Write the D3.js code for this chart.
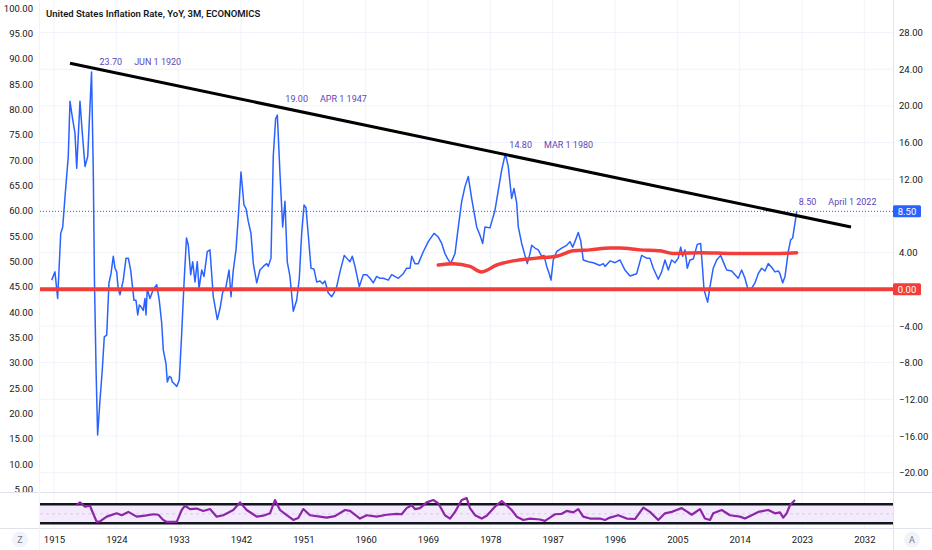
<!DOCTYPE html>
<html lang="en">
<head>
<meta charset="UTF-8">
<title>United States Inflation Rate</title>
<script src="https://d3js.org/d3.v7.min.js"></script>
<style>
  html, body { margin: 0; padding: 0; background: #fff; }
  svg { display: block; font-family: Roboto, "Open Sans", sans-serif; }
</style>
</head>
<body>
<svg id="chart"></svg>
<script>
// quarterly YoY inflation (decimal year, percent)
const years = [1914.67, 1915.14, 1915.53, 1915.97, 1916.26, 1916.59, 1917.06, 1917.31, 1917.64, 1918.03,
  1918.28, 1918.75, 1919.09, 1919.48, 1919.87, 1920.42, 1920.67, 1920.84, 1921.08, 1921.3,
  1921.64, 1921.97, 1922.26, 1922.61, 1922.94, 1923.23, 1923.56, 1923.81, 1924.05, 1924.28,
  1924.53, 1925.0, 1925.4, 1925.73, 1926.07, 1926.55, 1926.84, 1927.09, 1927.32, 1927.56,
  1927.89, 1928.14, 1928.28, 1928.47, 1928.86, 1929.34, 1929.83, 1930.2, 1930.55, 1930.78,
  1931.17, 1931.36, 1931.65, 1931.89, 1932.08, 1932.37, 1932.72, 1933.09, 1933.44, 1933.77,
  1934.13, 1934.39, 1934.74, 1935.03, 1935.36, 1935.69, 1935.94, 1936.33, 1936.66, 1937.13,
  1937.52, 1938.0, 1938.58, 1938.97, 1939.36, 1939.79, 1940.27, 1940.56, 1940.89, 1941.28,
  1941.61, 1942.0, 1942.43, 1942.72, 1943.05, 1943.44, 1943.78, 1944.27, 1944.74, 1945.22,
  1945.71, 1945.94, 1946.33, 1946.66, 1947.0, 1947.25, 1947.63, 1948.02, 1948.35, 1948.68,
  1949.07, 1949.55, 1950.04, 1950.42, 1950.76, 1951.1, 1951.38, 1951.72, 1952.11, 1952.54,
  1952.93, 1953.41, 1953.8, 1954.13, 1954.6, 1955.1, 1955.43, 1955.82, 1956.29, 1956.91,
  1957.26, 1957.74, 1958.07, 1958.46, 1959.08, 1959.66, 1960.15, 1960.63, 1961.1, 1961.59,
  1962.07, 1962.55, 1963.27, 1963.76, 1964.71, 1965.43, 1965.92, 1966.4, 1966.65, 1967.12,
  1967.6, 1968.32, 1969.04, 1969.87, 1970.49, 1970.98, 1971.45, 1971.79, 1972.28, 1972.9,
  1973.38, 1973.87, 1974.34, 1974.82, 1975.31, 1976.03, 1976.51, 1976.9, 1977.23, 1977.95,
  1978.67, 1979.15, 1979.64, 1980.17, 1980.59, 1981.08, 1981.42, 1981.81, 1982.04, 1982.53,
  1983.0, 1983.34, 1983.73, 1983.97, 1984.45, 1984.92, 1985.42, 1985.75, 1986.14, 1986.51,
  1986.76, 1987.09, 1987.58, 1988.3, 1989.03, 1989.5, 1989.89, 1990.22, 1990.7, 1991.05,
  1991.42, 1992.15, 1992.87, 1993.83, 1994.31, 1994.56, 1995.28, 1996.0, 1996.72, 1997.44,
  1998.17, 1999.13, 1999.85, 2000.58, 2001.05, 2001.53, 2002.25, 2002.74, 2003.22, 2003.7,
  2004.18, 2004.66, 2005.14, 2005.49, 2005.78, 2006.11, 2006.44, 2006.83, 2007.31, 2007.88,
  2008.37, 2008.66, 2008.85, 2009.14, 2009.38, 2009.72, 2010.19, 2010.68, 2011.26, 2011.74,
  2012.13, 2012.85, 2013.33, 2013.8, 2014.29, 2014.77, 2015.16, 2015.73, 2016.21, 2016.69,
  2017.18, 2017.66, 2018.13, 2018.62, 2019.1, 2019.58, 2019.82, 2020.21, 2020.55, 2021.02,
  2021.37, 2021.66, 2022.25];
const rates = [1.0, 1.9, -1.0, 6.1, 6.8, 10.1, 14.5, 20.5, 18.8, 17.0,
  13.2, 20.5, 17.0, 13.4, 14.5, 23.7, 13.0, 1.0, -9.0, -15.9,
  -12.1, -8.8, -5.2, -5.0, 0.7, 1.7, 3.6, 2.3, 1.9, 0.0,
  -0.6, 1.0, 3.4, 3.4, 2.1, -1.2, -1.2, -2.8, -1.7, -1.9,
  -2.3, -1.0, -2.8, 0.0, -1.0, 0.0, 0.5, -1.2, -3.7, -6.6,
  -8.1, -10.1, -9.5, -9.6, -10.1, -10.3, -10.6, -9.9, -4.8, 0.6,
  5.6, 4.8, 1.6, 3.0, 0.8, 3.0, 0.1, 2.1, 1.4, 4.1,
  4.3, -0.8, -3.3, -2.1, -0.3, 0.1, 2.1, -0.8, 2.1, 4.3,
  7.9, 12.8, 9.2, 8.8, 7.4, 6.1, 2.8, 0.7, 2.1, 2.5,
  2.8, 2.5, 3.4, 14.5, 18.6, 19.0, 12.6, 6.8, 9.6, 3.0,
  1.4, -2.4, -1.2, 1.2, 6.1, 9.2, 8.9, 5.9, 2.3, 2.2,
  0.8, 0.9, 0.6, 0.9, -0.4, -0.8, -0.4, 0.3, 1.9, 3.7,
  3.4, 3.0, 3.6, 2.5, 0.3, 1.6, 1.6, 1.2, 0.7, 1.4,
  1.2, 1.2, 1.0, 1.6, 1.2, 1.7, 2.3, 2.3, 3.6, 2.8,
  2.8, 4.1, 5.2, 6.1, 5.7, 5.0, 3.9, 3.4, 2.8, 3.9,
  6.8, 9.6, 11.2, 12.3, 9.9, 6.8, 5.9, 5.0, 6.8, 6.7,
  8.6, 10.8, 13.0, 14.8, 13.4, 9.9, 11.0, 9.4, 6.8, 5.0,
  3.7, 2.8, 3.9, 4.8, 4.5, 4.3, 3.6, 3.7, 2.5, 1.7,
  1.0, 3.2, 4.1, 4.5, 4.8, 5.2, 4.6, 5.2, 6.2, 5.3,
  3.2, 3.0, 2.9, 2.6, 2.8, 2.5, 3.1, 2.9, 3.2, 2.1,
  1.45, 1.7, 3.7, 3.4, 3.4, 2.3, 1.1, 1.9, 3.2, 2.1,
  3.2, 2.9, 3.4, 4.6, 3.6, 4.3, 2.3, 3.2, 3.3, 4.9,
  5.0, 2.1, 0.0, -0.8, -1.4, 0.3, 2.3, 3.2, 3.7, 2.8,
  2.1, 2.0, 1.6, 1.2, 2.1, 1.2, 0.1, 0.1, 0.7, 1.7,
  2.3, 2.0, 2.8, 2.4, 1.9, 2.0, 1.7, 0.7, 1.4, 4.1,
  5.4, 5.6, 8.5];

// long moving average (red)
const maYears = [1970.49, 1972.65, 1975.06, 1976.75, 1978.92, 1981.32, 1984.69, 1987.58, 1989.98, 1992.39,
  1995.28, 1996.72, 1999.61, 2002.5, 2004.42, 2008.27, 2013.08, 2017.9, 2022.23];
const maValues = [2.65, 2.8, 2.5, 1.9, 2.65, 3.1, 3.4, 3.6, 4.2, 4.3,
  4.5, 4.5, 4.3, 4.2, 3.9, 4.0, 3.9, 3.9, 4.0];

// RSI pane
const rsiYears = [1918.28, 1918.75, 1919.48, 1920.2, 1920.44, 1921.17, 1921.64, 1922.61, 1924.05, 1924.77,
  1925.73, 1926.94, 1928.14, 1929.34, 1930.06, 1930.78, 1931.27, 1932.72, 1933.44, 1933.91,
  1934.64, 1935.6, 1936.56, 1937.52, 1938.49, 1939.44, 1940.89, 1941.86, 1942.82, 1944.27,
  1945.22, 1946.19, 1946.91, 1947.63, 1948.6, 1949.55, 1950.27, 1951.0, 1951.96, 1953.41,
  1954.37, 1955.57, 1957.02, 1957.74, 1959.18, 1960.15, 1961.59, 1963.04, 1964.48, 1965.2,
  1965.92, 1966.65, 1967.12, 1967.85, 1968.81, 1969.77, 1970.49, 1971.45, 1972.18, 1972.9,
  1973.87, 1974.59, 1975.06, 1975.79, 1976.75, 1977.48, 1978.67, 1979.64, 1980.36, 1981.08,
  1981.81, 1982.76, 1983.73, 1985.17, 1985.89, 1986.61, 1987.34, 1988.3, 1989.03, 1989.98,
  1990.7, 1991.42, 1992.39, 1993.83, 1994.56, 1995.28, 1996.48, 1997.69, 1998.89, 2000.09,
  2001.05, 2002.25, 2003.22, 2004.19, 2004.91, 2005.63, 2006.35, 2007.08, 2008.27, 2008.99,
  2009.72, 2010.19, 2011.41, 2012.6, 2014.05, 2014.77, 2015.74, 2016.69, 2018.13, 2019.1,
  2019.82, 2020.3, 2020.79, 2021.27, 2021.99];
const rsiValues = [68.5, 74, 65, 67, 58, 33, 34, 44, 51, 47,
  54, 44, 46, 49, 48, 37, 33, 33, 58, 67,
  60, 61, 56, 60, 44, 47, 58, 74, 58, 44,
  46, 51, 79, 58, 47, 37, 41, 60, 47, 44,
  42, 45, 58, 56, 40, 47, 44, 48, 50, 49,
  62, 68, 60, 62, 74, 79, 72, 47, 40, 54,
  79, 83, 62, 47, 40, 46, 65, 77, 68, 58,
  44, 37, 40, 38, 35, 42, 49, 50, 56, 53,
  60, 44, 40, 40, 37, 42, 47, 40, 39, 63,
  54, 37, 51, 54, 58, 62, 55, 48, 60, 40,
  37, 51, 58, 47, 44, 40, 47, 54, 58, 51,
  53, 42, 51, 68, 79];
const rsiBands = [70, 30];

// trend line through the peaks
const trendYears = [1917.31, 2030.08];
const trendValues = [24.65, 6.79];

// labelled peaks
const peakYears = [1920.42, 1947.25, 1980.17, 2022.25];
const peakValues = [23.70, 19.00, 14.80, 8.50];
const peakDates = ["JUN 1 1920", "APR 1 1947", "MAR 1 1980", "April 1 2022"];

const yearTicks = [1915, 1924, 1933, 1942, 1951, 1960, 1969, 1978, 1987, 1996, 2005, 2014, 2023, 2032];
const rightTicks = [-20, -16, -12, -8, -4, 0, 4, 8, 12, 16, 20, 24, 28];
const leftTicks = [5, 10, 15, 20, 25, 30, 35, 40, 45, 50, 55, 60, 65, 70, 75, 80, 85, 90, 95, 100];

const title = "United States Inflation Rate, YoY, 3M, ECONOMICS";
const lastValue = 8.50;

// ---- layout ----
const width = 932, height = 550;
const plotL = 40, plotR = 893;
const mainBottom = 492, rsiTop = 493, rsiBottom = 528;

const svg = d3.select("#chart").attr("width", width).attr("height", height);

const x = d3.scaleLinear().domain([1915, 2032]).range([54, 864.3]);
const y = d3.scaleLinear().domain([0, 28]).range([289.3, 32.6]);
const yLeft = d3.scaleLinear().domain([5, 100]).range([489.5, 8.3]);
const yRsi = d3.scaleLinear().domain([30, 70]).range([523.3, 504.3]);

const defs = svg.append("defs");
defs.append("clipPath").attr("id", "mainClip")
  .append("rect").attr("x", 0).attr("y", 0).attr("width", width).attr("height", mainBottom);
defs.append("clipPath").attr("id", "plotClip")
  .append("rect").attr("x", plotL).attr("y", 0).attr("width", plotR - plotL).attr("height", mainBottom);
defs.append("clipPath").attr("id", "rsiClip")
  .append("rect").attr("x", plotL).attr("y", rsiTop).attr("width", plotR - plotL).attr("height", rsiBottom - rsiTop);

// grid
const grid = svg.append("g").attr("class", "grid");
grid.selectAll("line.h")
  .data(rightTicks)
  .enter()
  .append("line")
  .attr("x1", plotL).attr("x2", plotR)
  .attr("y1", d => y(d)).attr("y2", d => y(d))
  .attr("stroke", "#f0f3fa").attr("stroke-width", 1);
grid.selectAll("line.v")
  .data(yearTicks)
  .enter()
  .append("line")
  .attr("x1", d => x(d)).attr("x2", d => x(d))
  .attr("y1", 0).attr("y2", rsiBottom)
  .attr("stroke", "#f0f3fa").attr("stroke-width", 1);

// pane borders
const frame = svg.append("g").attr("stroke", "#e0e3eb").attr("stroke-width", 1);
frame.append("line").attr("x1", 0).attr("x2", width).attr("y1", mainBottom + 0.5).attr("y2", mainBottom + 0.5);
frame.append("line").attr("x1", 0).attr("x2", width).attr("y1", rsiBottom + 0.5).attr("y2", rsiBottom + 0.5);
frame.append("line").attr("x1", plotR + 0.5).attr("x2", plotR + 0.5).attr("y1", 0).attr("y2", height);
frame.append("line").attr("x1", plotL - 0.5).attr("x2", plotL - 0.5).attr("y1", 0).attr("y2", height)
  .attr("stroke", "#f0f3fa");

// main pane
const main = svg.append("g").attr("clip-path", "url(#plotClip)");

// last value dotted line
main.append("line")
  .attr("x1", plotL).attr("x2", plotR)
  .attr("y1", y(lastValue)).attr("y2", y(lastValue))
  .attr("stroke", "#2962ff").attr("stroke-width", 1)
  .attr("stroke-dasharray", "1,2");

const series = years.map((yr, i) => ({ year: yr, value: rates[i] }));
main.append("path")
  .datum(series)
  .attr("fill", "none")
  .attr("stroke", "#2962ff")
  .attr("stroke-width", 1.5)
  .attr("stroke-linejoin", "round")
  .attr("d", d3.line().x(d => x(d.year)).y(d => y(d.value)));

// zero line
main.append("line")
  .attr("x1", plotL).attr("x2", plotR)
  .attr("y1", y(0)).attr("y2", y(0))
  .attr("stroke", "#f23d3a").attr("stroke-width", 4);

const ma = maYears.map((yr, i) => ({ year: yr, value: maValues[i] }));
main.append("path")
  .datum(ma)
  .attr("fill", "none")
  .attr("stroke", "#f23d3a")
  .attr("stroke-width", 3.5)
  .attr("stroke-linecap", "round")
  .attr("d", d3.line().curve(d3.curveMonotoneX).x(d => x(d.year)).y(d => y(d.value)));

const trend = trendYears.map((yr, i) => ({ year: yr, value: trendValues[i] }));
main.append("path")
  .datum(trend)
  .attr("fill", "none")
  .attr("stroke", "#000")
  .attr("stroke-width", 3)
  .attr("d", d3.line().x(d => x(d.year)).y(d => y(d.value)));

// peak notes
const noteDx = [8, 8, 4, 2];
const noteDy = [-10, -16, -9, -10];
const notes = main.append("g")
  .selectAll("text")
  .data(peakYears.map((yr, i) => ({ year: yr, value: peakValues[i], date: peakDates[i], i })))
  .enter()
  .append("text")
  .attr("x", d => x(d.year) + noteDx[d.i])
  .attr("y", d => y(d.value) + noteDy[d.i])
  .attr("dy", "0.35em")
  .style("font-size", "9px")
  .style("fill", "#5e45b8");
notes.append("tspan").text(d => d.value.toFixed(2));
notes.append("tspan").attr("dx", 12).text(d => d.date);

// title
svg.append("text")
  .attr("x", 46).attr("y", 17)
  .text(title)
  .style("font-size", "9.5px")
  .style("font-weight", 600)
  .style("fill", "#131722");

// RSI pane
const rsi = svg.append("g").attr("clip-path", "url(#rsiClip)");
rsi.append("rect")
  .attr("x", plotL).attr("width", plotR - plotL)
  .attr("y", yRsi(rsiBands[0])).attr("height", yRsi(rsiBands[1]) - yRsi(rsiBands[0]))
  .attr("fill", "#f3eafc");
rsi.append("line")
  .attr("x1", plotL).attr("x2", plotR)
  .attr("y1", yRsi(50)).attr("y2", yRsi(50))
  .attr("stroke", "#d9cce8").attr("stroke-width", 1).attr("stroke-dasharray", "3,3");
rsi.selectAll("line.band")
  .data(rsiBands)
  .enter()
  .append("line")
  .attr("x1", plotL).attr("x2", plotR)
  .attr("y1", d => yRsi(d)).attr("y2", d => yRsi(d))
  .attr("stroke", "#131722").attr("stroke-width", 2.5);
const rsiSeries = rsiYears.map((yr, i) => ({ year: yr, value: rsiValues[i] }));
rsi.append("path")
  .datum(rsiSeries)
  .attr("fill", "none")
  .attr("stroke", "#8e24aa")
  .attr("stroke-width", 2.2)
  .attr("stroke-linejoin", "round")
  .attr("d", d3.line().x(d => x(d.year)).y(d => yRsi(d.value)));

// axes
const minus = v => (v < 0 ? "\u2212" : "") + Math.abs(v).toFixed(2);
const badgeValues = [lastValue, 0];

// tick labels sitting under a price badge are hidden, as on the source
const rightAxis = svg.append("g")
  .attr("transform", `translate(${plotR},0)`)
  .call(d3.axisRight(y)
    .tickValues(rightTicks.filter(t => !badgeValues.some(b => Math.abs(y(b) - y(t)) < 10)))
    .tickSize(0).tickPadding(6).tickFormat(minus));

const leftAxis = svg.append("g")
  .attr("clip-path", "url(#mainClip)")
  .append("g")
  .attr("transform", `translate(${plotL},0)`)
  .call(d3.axisLeft(yLeft).tickValues(leftTicks).tickSize(0).tickPadding(7).tickFormat(d => d.toFixed(2)));

const bottomAxis = svg.append("g")
  .attr("transform", `translate(0,${rsiBottom})`)
  .call(d3.axisBottom(x).tickValues(yearTicks).tickSize(0).tickPadding(8).tickFormat(d3.format("d")));

[rightAxis, leftAxis, bottomAxis].forEach(a => {
  a.select(".domain").remove();
  a.selectAll("text")
    .style("font-family", "Roboto, sans-serif")
    .style("font-size", "9.5px")
    .style("fill", "#131722");
});

// price badges
const badges = svg.append("g")
  .selectAll("g")
  .data([{ v: lastValue, c: "#2962ff" }, { v: 0, c: "#f23d3a" }])
  .enter()
  .append("g")
  .attr("transform", d => `translate(${plotR},${y(d.v)})`);
badges.append("rect")
  .attr("x", 0).attr("y", -6).attr("width", 28).attr("height", 12).attr("rx", 1.5)
  .attr("fill", d => d.c);
badges.append("text")
  .attr("x", 14).attr("dy", "0.35em")
  .attr("text-anchor", "middle")
  .text(d => d.v.toFixed(2))
  .style("font-size", "9.5px")
  .style("fill", "#fff");

// corner buttons
[["Z", 20], ["A", 912]].forEach(([t, cx]) => {
  svg.append("circle").attr("cx", cx).attr("cy", 539.5).attr("r", 8).attr("fill", "#f0f3fa");
  svg.append("text")
    .attr("x", cx).attr("y", 539.5).attr("dy", "0.35em")
    .attr("text-anchor", "middle")
    .text(t)
    .style("font-size", "9px")
    .style("fill", "#787b86");
});
</script>
</body>
</html>
